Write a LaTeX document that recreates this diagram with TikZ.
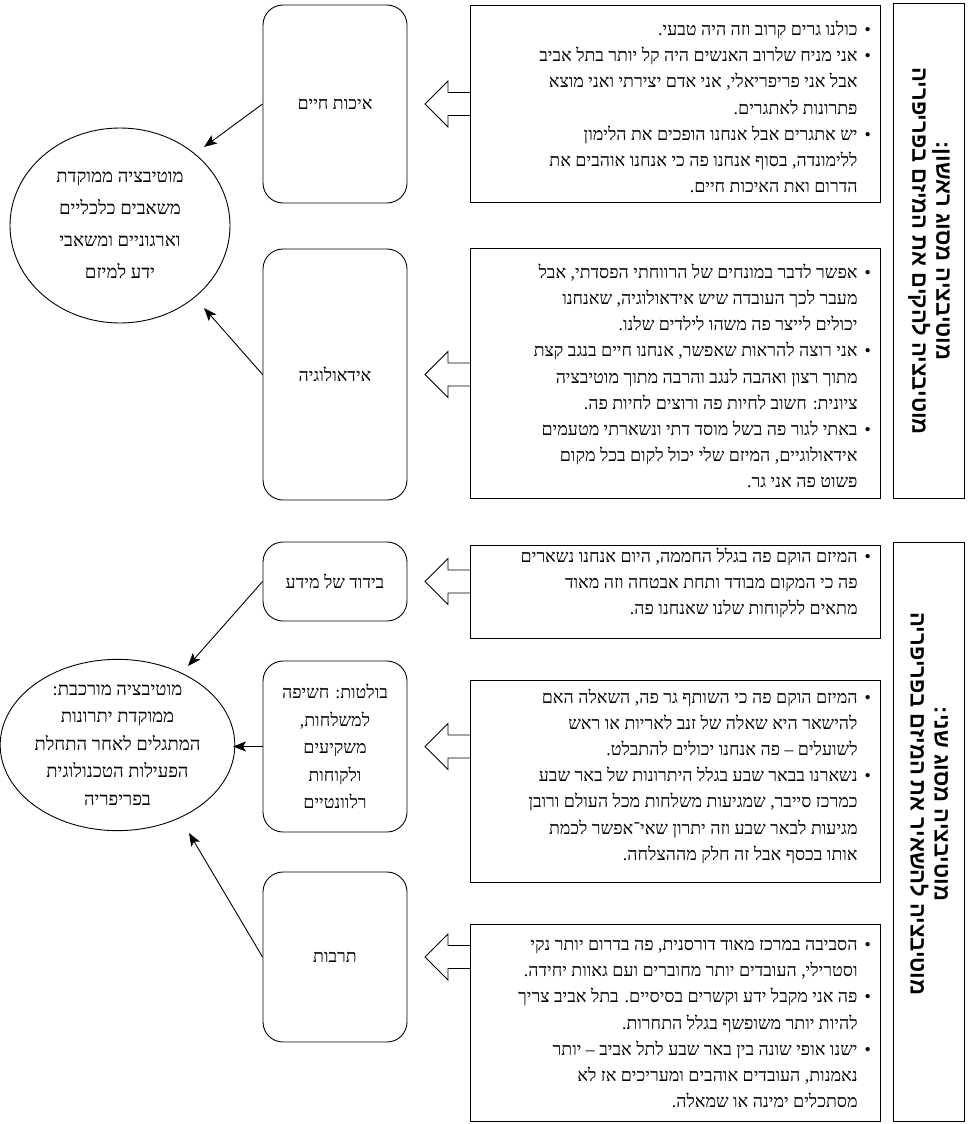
\documentclass[tikz,border=0pt]{standalone}
\usepackage{fontspec}
\setmainfont{Liberation Serif}
\newfontfamily\he[Script=Hebrew]{Liberation Serif}
\newfontfamily\hs[Script=Hebrew]{Liberation Sans}
\TeXXeTstate=1
\usetikzlibrary{arrows.meta,shapes.geometric}
\newcommand\bl[1]{\beginR\textbullet\hspace{7pt}#1\endR}
\newcommand\cl[1]{\beginR #1\endR\hbox{\hphantom{\textbullet}\hspace{7pt}}}
\newcommand\rl[1]{\beginR #1\endR}
\newcommand\hollow[1]{\draw[hol] (470,#1-11.5) -- (448,#1-11.5) -- (448,#1-23) -- (425,#1) -- (448,#1+23) -- (448,#1+11.5) -- (470,#1+11.5);}
\tikzset{
  bodytext/.style={font=\he\fontsize{17.8}{26.2}\selectfont, align=right, inner sep=0pt, anchor=east},
  bullbox/.style={draw, line width=0.9pt, rectangle, inner sep=0pt},
  tbox/.style={draw, line width=1pt, rectangle, inner sep=0pt},
  rbox/.style={draw, line width=0.9pt, rectangle, rounded corners=20pt, inner sep=0pt, minimum width=144pt, align=center, font=\he\fontsize{17.8}{27.5}\selectfont},
  ell/.style={draw, line width=0.9pt, ellipse, inner sep=0pt, align=center},
  hol/.style={draw, line width=0.9pt, line join=miter},
  conn/.style={draw, line width=0.9pt, -{Stealth[length=13pt,width=10pt,inset=3pt]}},
  ttext/.style={rotate=-90, align=center, inner sep=0pt, font=\hs\bfseries\fontsize{22}{24}\selectfont}
}
\begin{document}
\begin{tikzpicture}[x=1pt,y=-1pt]
\useasboundingbox (0,0) rectangle (969,1124);
% title boxes
\node[tbox, minimum width=71pt, minimum height=494pt] (T1) at (928.5,251) {};
\node[tbox, minimum width=71pt, minimum height=579pt] (T2) at (928.5,831.5) {};
\node[ttext] (T1t) at (929,251) {\rl{מוטיבציה מסוג ראשון:}\\\rl{מוטיבציה להקים את המיזם בפריפריה}};
\node[ttext] (T2t) at (929,804) {\rl{מוטיבציה מסוג שני:}\\\rl{מוטיבציה להשאיר את המיזם בפריפריה}};
% bullet boxes
\node[bullbox, minimum width=410pt, minimum height=197pt] (P1) at (675,103.5) {};
\node[bullbox, minimum width=410pt, minimum height=250pt] (P2) at (675,373) {};
\node[bullbox, minimum width=410pt, minimum height=93pt] (P3) at (675,591.5) {};
\node[bullbox, minimum width=410pt, minimum height=202pt] (P4) at (675,781) {};
\node[bullbox, minimum width=410pt, minimum height=197pt] (P5) at (675,1022.5) {};
\node[bodytext] (P1t) at (871,107) {%
\bl{כולנו גרים קרוב וזה היה טבעי.}\\
\bl{אני מניח שלרוב האנשים היה קל יותר בתל אביב}\\
\cl{אבל אני פריפריאלי, אני אדם יצירתי ואני מוצא}\\
\cl{פתרונות לאתגרים.}\\
\bl{יש אתגרים אבל אנחנו הופכים את הלימון}\\
\cl{ללימונדה, בסוף אנחנו פה כי אנחנו אוהבים את}\\
\cl{הדרום ואת האיכות חיים.}};
\node[bodytext] (P2t) at (871,376) {%
\bl{אפשר לדבר במונחים של הרווחתי הפסדתי, אבל}\\
\cl{מעבר לכך העובדה שיש אידאולוגיה, שאנחנו}\\
\cl{יכולים לייצר פה משהו לילדים שלנו.}\\
\bl{אני רוצה להראות שאפשר, אנחנו חיים בנגב קצת}\\
\cl{מתוך רצון ואהבה לנגב והרבה מתוך מוטיבציה}\\
\cl{ציונית: חשוב לחיות פה ורוצים לחיות פה.}\\
\bl{באתי לגור פה בשל מוסד דתי ונשארתי מטעמים}\\
\cl{אידאולוגיים, המיזם שלי יכול לקום בכל מקום}\\
\cl{פשוט פה אני גר.}};
\node[bodytext] (P3t) at (871,583) {%
\bl{המיזם הוקם פה בגלל החממה, היום אנחנו נשארים}\\
\cl{פה כי המקום מבודד ותחת אבטחה וזה מאוד}\\
\cl{מתאים ללקוחות שלנו שאנחנו פה.}};
\node[bodytext] (P4t) at (871,776) {%
\bl{המיזם הוקם פה כי השותף גר פה, השאלה האם}\\
\cl{להישאר היא שאלה של זנב לאריות או ראש}\\
\cl{לשועלים – פה אנחנו יכולים להתבלט.}\\
\bl{נשארנו בבאר שבע בגלל היתרונות של באר שבע}\\
\cl{כמרכז סייבר, שמגיעות משלחות מכל העולם ורובן}\\
\cl{מגיעות לבאר שבע וזה יתרון שאי־אפשר לכמת}\\
\cl{אותו בכסף אבל זה חלק מההצלחה.}};
\node[bodytext] (P5t) at (871,1024) {%
\bl{הסביבה במרכז מאוד דורסנית, פה בדרום יותר נקי}\\
\cl{וסטרילי, העובדים יותר מחוברים ועם גאוות יחידה.}\\
\bl{פה אני מקבל ידע וקשרים בסיסיים. בתל אביב צריך}\\
\cl{להיות יותר משופשף בגלל התחרות.}\\
\bl{ישנו אופי שונה בין באר שבע לתל אביב – יותר}\\
\cl{נאמנות, העובדים אוהבים ומעריכים אז לא}\\
\cl{מסתכלים ימינה או שמאלה.}};
% rounded boxes
\node[rbox, minimum height=198pt] (r1) at (335,104) {\rl{איכות חיים}};
\node[rbox, minimum height=251pt] (r2) at (335,374.5) {\rl{אידאולוגיה}};
\node[rbox, minimum height=79pt] (r3) at (335,581.5) {\rl{בידוד של מידע}};
\node[rbox, minimum height=171pt] (r4) at (335,746.5) {\rl{בולטות: חשיפה}\\\rl{למשלחות,}\\\rl{משקיעים}\\\rl{ולקוחות}\\\rl{רלוונטיים}};
\node[rbox, minimum height=170pt] (r5) at (335,957) {\rl{תרבות}};
% hollow arrows
\hollow{104}
\hollow{374.5}
\hollow{581.5}
\hollow{746.5}
\hollow{957}
% ellipses
\node[ell, minimum width=220pt, minimum height=195pt, font=\he\fontsize{18.5}{32}\selectfont] (e1) at (120,225.5) {\rl{מוטיבציה ממוקדת}\\\rl{משאבים כלכליים}\\\rl{וארגוניים ומשאבי}\\\rl{ידע למיזם}};
\node[ell, minimum width=215pt, minimum height=168pt, font=\he\fontsize{18.5}{27.5}\selectfont] (e2) at (117.5,745) {\rl{מוטיבציה מורכבת:}\\\rl{ממוקדת יתרונות}\\\rl{המתגלים לאחר התחלת}\\\rl{הפעילות הטכנולוגית}\\\rl{בפריפריה}};
% arrow tips
\coordinate (a1) at (204,147);
\coordinate (a2) at (204,308);
\coordinate (a3) at (188,666);
\coordinate (a4) at (233,746.5);
\coordinate (a5) at (189,833);
\draw[conn] (r1.west) -- (a1);
\draw[conn] (r2.west) -- (a2);
\draw[conn] (r3.west) -- (a3);
\draw[conn] (r4.west) -- (a4);
\draw[conn] (r5.west) -- (a5);
\end{tikzpicture}
\end{document}
